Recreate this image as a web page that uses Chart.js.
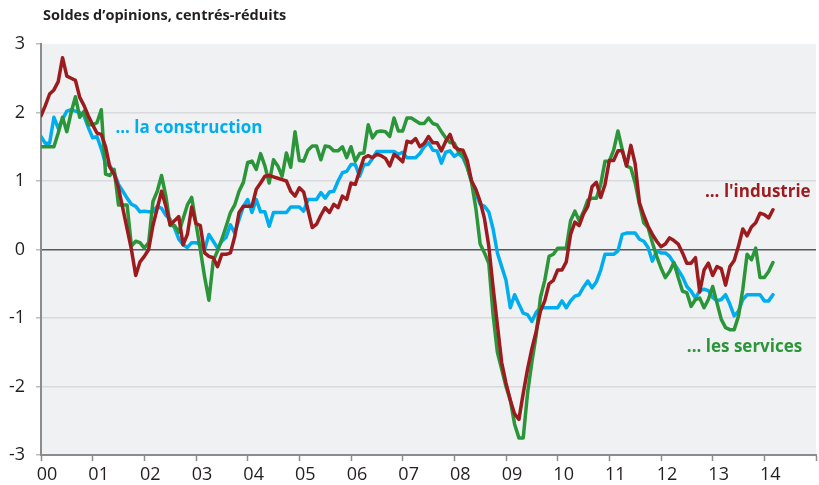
<!DOCTYPE html>
<html>
<head>
<meta charset="utf-8">
<script src="https://cdn.jsdelivr.net/npm/chart.js@4"></script>
<style>
	html, body { margin: 0; padding: 0; background: #fff; }
	#wrap { width: 819px; height: 485px; position: relative; }
</style>
</head>
<body>
<div id="wrap"><canvas id="chart"></canvas></div>
<script>
// data: monthly values, Jan 2000 -> Mar 2014
const firstYear = 2000;
const yearLabels = ['00', '01', '02', '03', '04', '05', '06', '07', '08', '09', '10', '11', '12', '13', '14'];
const yTicks = [-3, -2, -1, 0, 1, 2, 3];

const industrie = [
	1.95, 2.1, 2.27, 2.33, 2.45, 2.8, 2.53, 2.5, 2.47, 2.22, 2.1, 1.95,
	1.82, 1.7, 1.68, 1.5, 1.2, 1.1, 0.9, 0.6, 0.3, 0.0, -0.38, -0.18,
	-0.1, 0.0, 0.35, 0.6, 0.85, 0.63, 0.36, 0.42, 0.48, 0.07, 0.22, 0.62,
	0.38, 0.35, -0.05, -0.1, -0.12, -0.25, -0.07, -0.07, -0.05, 0.19, 0.54, 0.63,
	0.63, 0.63, 0.88, 0.97, 1.07, 1.08, 1.06, 1.04, 1.02, 1.0, 0.85, 0.78,
	0.9, 0.84, 0.58, 0.32, 0.37, 0.5, 0.61, 0.54, 0.66, 0.61, 0.78, 0.73,
	0.97, 0.95, 1.15, 1.34, 1.37, 1.34, 1.39, 1.37, 1.33, 1.22, 1.39, 1.34,
	1.28, 1.58, 1.56, 1.62, 1.5, 1.55, 1.65, 1.56, 1.56, 1.44, 1.58, 1.68,
	1.5, 1.46, 1.45, 1.3, 1.0, 0.88, 0.7, 0.45, 0.05, -0.55, -1.1, -1.65,
	-1.95, -2.2, -2.4, -2.48, -2.1, -1.75, -1.45, -1.2, -0.9, -0.75, -0.5, -0.45,
	-0.3, -0.3, -0.18, 0.22, 0.4, 0.35, 0.52, 0.63, 0.92, 0.98, 0.76, 0.95,
	1.3, 1.3, 1.44, 1.44, 1.22, 1.52, 1.25, 0.68, 0.5, 0.34, 0.22, 0.12,
	0.04, 0.08, 0.17, 0.13, 0.08, -0.05, -0.2, -0.2, -0.12, -0.62, -0.3, -0.2,
	-0.38, -0.25, -0.28, -0.52, -0.25, -0.16, 0.05, 0.3, 0.2, 0.33, 0.39, 0.53,
	0.51, 0.46, 0.58
];

const construction = [
	1.65, 1.55, 1.55, 1.93, 1.77, 1.9, 2.02, 2.04, 2.02, 2.0, 1.95, 1.78,
	1.63, 1.65, 1.47, 1.25, 1.22, 1.12, 0.95, 0.85, 0.75, 0.66, 0.63, 0.55,
	0.56, 0.55, 0.55, 0.63, 0.6, 0.5, 0.44, 0.32, 0.15, 0.07, 0.03, 0.1,
	0.1, 0.07, 0.0, 0.22, 0.12, 0.02, 0.12, 0.18, 0.36, 0.24, 0.44, 0.63,
	0.73, 0.54, 0.73, 0.55, 0.55, 0.34, 0.54, 0.54, 0.54, 0.54, 0.62, 0.62,
	0.62, 0.56, 0.73, 0.73, 0.73, 0.83, 0.75, 0.84, 0.85, 1.0, 1.12, 1.14,
	1.24, 1.24, 1.07, 1.24, 1.24, 1.33, 1.43, 1.43, 1.43, 1.43, 1.43, 1.39,
	1.42, 1.34, 1.34, 1.34, 1.4, 1.5, 1.56, 1.45, 1.44, 1.26, 1.42, 1.44,
	1.36, 1.4, 1.34, 1.2, 1.0, 0.82, 0.66, 0.63, 0.55, 0.3, -0.05, -0.25,
	-0.45, -0.85, -0.66, -0.8, -0.93, -0.95, -1.05, -0.92, -0.85, -0.85, -0.85, -0.85,
	-0.85, -0.75, -0.85, -0.75, -0.68, -0.66, -0.55, -0.46, -0.56, -0.47, -0.3, -0.07,
	-0.07, -0.07, -0.02, 0.22, 0.24, 0.24, 0.24, 0.15, 0.12, 0.03, -0.17, -0.02,
	-0.05, -0.05, -0.1, -0.2, -0.3, -0.4, -0.54, -0.61, -0.71, -0.6, -0.58, -0.6,
	-0.7, -0.75, -0.73, -0.66, -0.8, -0.97, -0.9, -0.73, -0.66, -0.66, -0.66, -0.66,
	-0.75, -0.75, -0.66
];

const services = [
	1.5, 1.5, 1.5, 1.5, 1.7, 1.93, 1.72, 2.0, 2.23, 1.93, 2.02, 1.82,
	1.82, 1.85, 2.04, 1.1, 1.08, 1.17, 0.65, 0.65, 0.65, 0.05, 0.12, 0.1,
	0.02, 0.1, 0.7, 0.85, 1.08, 0.78, 0.35, 0.35, 0.25, 0.45, 0.65, 0.76,
	0.38, 0.0, -0.4, -0.74, -0.17, -0.02, 0.15, 0.34, 0.54, 0.65, 0.85, 0.98,
	1.27, 1.29, 1.17, 1.4, 1.22, 0.97, 1.31, 1.22, 1.07, 1.41, 1.2, 1.72,
	1.3, 1.29, 1.45, 1.51, 1.51, 1.31, 1.51, 1.5, 1.44, 1.44, 1.5, 1.34,
	1.5, 1.29, 1.4, 1.41, 1.82, 1.63, 1.72, 1.73, 1.72, 1.65, 1.92, 1.73,
	1.73, 1.92, 1.92, 1.88, 1.84, 1.84, 1.92, 1.84, 1.82, 1.72, 1.63, 1.56,
	1.55, 1.42, 1.39, 1.2, 0.98, 0.6, 0.08, -0.05, -0.2, -0.95, -1.5, -1.75,
	-2.0, -2.2, -2.55, -2.75, -2.75, -2.1, -1.65, -1.25, -0.7, -0.45, -0.1, -0.07,
	0.02, 0.02, 0.02, 0.42, 0.56, 0.42, 0.55, 0.72, 0.75, 0.75, 0.95, 1.29,
	1.29, 1.45, 1.73, 1.46, 1.22, 1.19, 0.97, 0.66, 0.39, 0.32, 0.1, -0.1,
	-0.27, -0.41, -0.32, -0.19, -0.41, -0.61, -0.63, -0.83, -0.73, -0.71, -0.85, -0.73,
	-0.54, -0.78, -1.02, -1.14, -1.17, -1.17, -0.97, -0.58, -0.07, -0.15, 0.02, -0.41,
	-0.41, -0.32, -0.19
];

// text labels on the chart: [text, x (year), y (value), colour]
const seriesLabels = [
	['... la construction', 2001.44, 1.77, '#00aeef'],
	["... l'industrie", 2012.85, 0.83, '#9b1b1f'],
	['... les services', 2012.5, -1.42, '#2b9639']
];
const chartTitle = 'Soldes d\u2019opinions, centrés-réduits';

const toPoints = (values) => values.map((v, i) => ({ x: firstYear + i / 12, y: v }));

const fontFamily = '"Open Sans", Lato, sans-serif';

// grey plot background
const plotBackground = {
	id: 'plotBackground',
	beforeDraw(chart) {
		const { ctx, chartArea } = chart;
		ctx.save();
		ctx.fillStyle = '#f0f1f3';
		ctx.fillRect(chartArea.left, chartArea.top, chartArea.right - chartArea.left, chartArea.bottom - chartArea.top);
		ctx.restore();
	}
};

// title and series labels
const chartTexts = {
	id: 'chartTexts',
	afterDatasetsDraw(chart) {
		const { ctx, chartArea, scales } = chart;
		ctx.save();
		ctx.textBaseline = 'middle';
		ctx.textAlign = 'left';
		ctx.fillStyle = '#231f20';
		ctx.font = `bold 14.5px ${fontFamily}`;
		ctx.fillText(chartTitle, chartArea.left + 2, 16);

		ctx.font = `bold 17px ${fontFamily}`;
		seriesLabels.forEach(([text, x, y, color]) => {
			ctx.fillStyle = color;
			ctx.fillText(text, scales.x.getPixelForValue(x), scales.y.getPixelForValue(y));
		});
		ctx.restore();
	}
};

document.addEventListener('DOMContentLoaded', () => {
	const canvas = document.getElementById('chart');

	new Chart(canvas, {
		type: 'line',
		data: {
			datasets: [{
					label: "l'industrie",
					data: toPoints(industrie),
					borderColor: '#9b1b1f',
					borderWidth: 3.5
				},
				{
					label: 'les services',
					data: toPoints(services),
					borderColor: '#2b9639',
					borderWidth: 3.5
				},
				{
					label: 'la construction',
					data: toPoints(construction),
					borderColor: '#00aeef',
					borderWidth: 3.5
				}
			]
		},
		options: {
			responsive: true,
			maintainAspectRatio: false,
			animation: false,
			layout: {
				padding: { top: 44, right: 0, bottom: 0, left: 0 }
			},
			elements: {
				point: { radius: 0 },
				line: { tension: 0, borderJoinStyle: 'round', borderCapStyle: 'round' }
			},
			scales: {
				x: {
					type: 'linear',
					min: firstYear,
					max: firstYear + yearLabels.length,
					afterFit: (scale) => { scale.height = 30; },
					afterBuildTicks: (scale) => {
						scale.ticks = yearLabels.map((_, i) => ({ value: firstYear + i })).concat([{ value: firstYear + yearLabels.length }]);
					},
					ticks: {
						autoSkip: false,
						maxRotation: 0,
						labelOffset: 6,
						padding: 3,
						color: '#231f20',
						font: { family: fontFamily, size: 18 },
						callback: (value) => yearLabels[Math.round(value) - firstYear] || ''
					},
					grid: {
						drawOnChartArea: false,
						drawTicks: true,
						tickLength: 6,
						tickColor: '#8c8c8c',
						tickWidth: 1.5
					},
					border: { color: '#8c8c8c', width: 2 }
				},
				y: {
					min: -3,
					max: 3,
					afterFit: (scale) => { scale.width = 41; },
					afterBuildTicks: (scale) => {
						scale.ticks = yTicks.map((v) => ({ value: v }));
					},
					ticks: {
						padding: 11,
						color: '#231f20',
						font: { family: fontFamily, size: 18 }
					},
					grid: {
						color: (c) => {
							if (c.tick.value === 0) return '#58595b';
							if (Math.abs(c.tick.value) === 3) return 'rgba(0,0,0,0)';
							return '#d9dadd';
						},
						lineWidth: 1.5,
						tickLength: 5,
						tickColor: '#bdbdbd'
					},
					border: { color: '#8c8c8c', width: 2 }
				}
			},
			plugins: {
				legend: false,
				tooltip: { enabled: false }
			}
		},
		plugins: [plotBackground, chartTexts]
	});
});
</script>
</body>
</html>
